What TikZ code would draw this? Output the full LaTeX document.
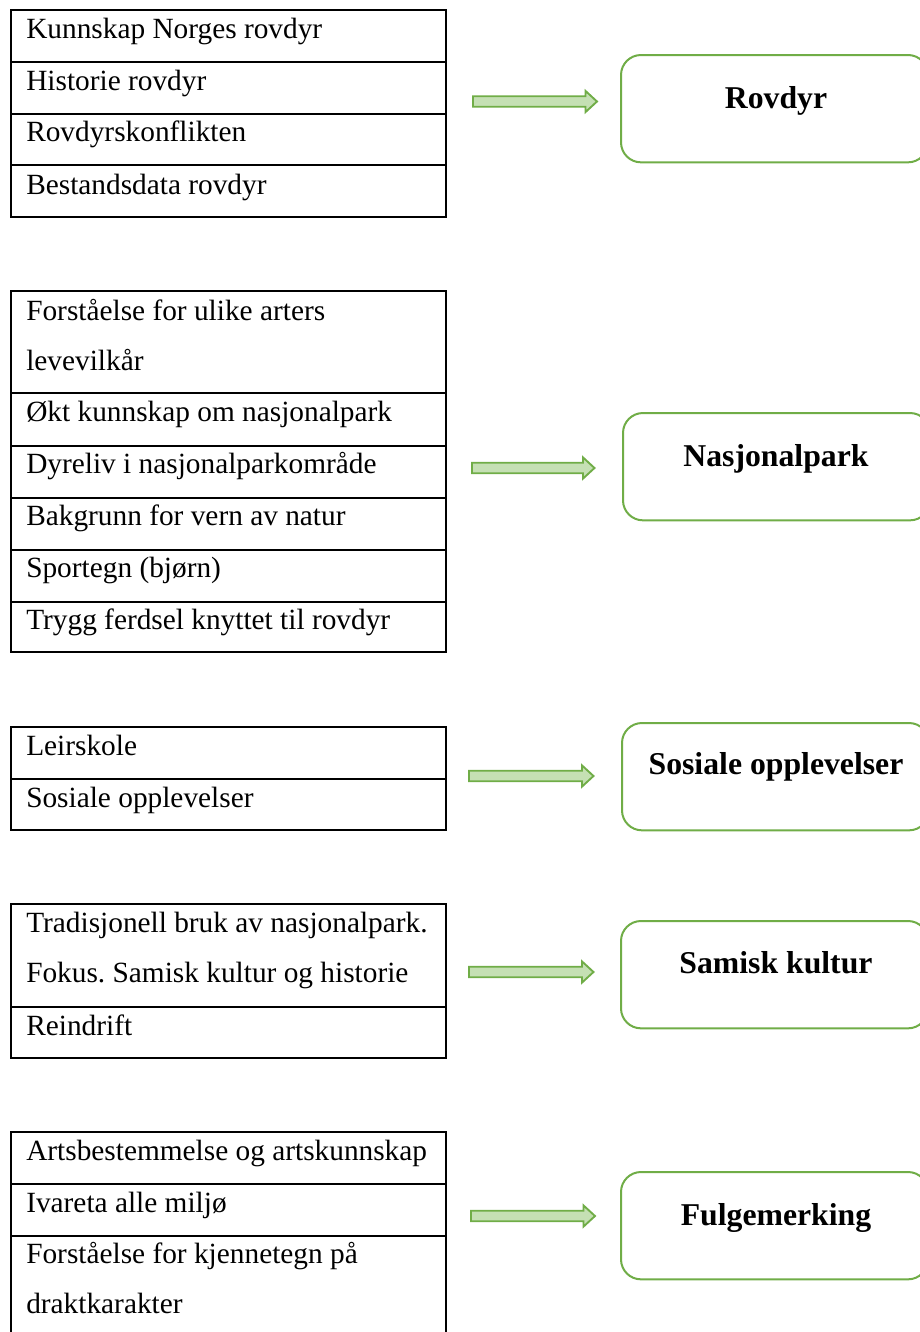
\documentclass[tikz,border=0pt]{standalone}
\usepackage{fontspec}
\setmainfont{Liberation Serif}
\usetikzlibrary{calc}
\definecolor{grn}{HTML}{70AD47}
\definecolor{lgrn}{HTML}{C5E0B4}
\frenchspacing
\newcommand\greenarrow[2]{%
  \draw[garrow] ($(#1)+(0,-5.2)$) -- ($(#2)+(-11.5,-5.2)$) -- ($(#2)+(-11.5,-10.6)$) -- (#2)
    -- ($(#2)+(-11.5,10.6)$) -- ($(#2)+(-11.5,5.2)$) -- ($(#1)+(0,5.2)$) -- cycle;}
\begin{document}
\begin{tikzpicture}[x=0.75pt,y=-0.75pt,
  tx/.style={anchor=base west, inner sep=0pt, font=\fontsize{22}{26}\selectfont},
  hd/.style={anchor=base, inner sep=0pt, font=\fontsize{23.8}{28}\selectfont\bfseries},
  tbl/.style={draw=black, line width=1.2pt},
  gbox/.style={draw=grn, line width=1.5pt, rounded corners=15pt, fill=white,
    minimum width=230.25pt, minimum height=80.5pt, anchor=north west, inner sep=0pt},
  garrow/.style={draw=grn, fill=lgrn, line width=1.4pt, line join=miter}]
\useasboundingbox (0,0) rectangle (920,1332);

% ---------- Table 1 ----------
\draw[tbl] (11,10) rectangle (446,217);
\foreach \yy in {62,114,165} \draw[tbl] (11,\yy) -- (446,\yy);
\node[tx] (r11) at (26,38.3) {Kunnskap Norges rovdyr};
\node[tx] (r12) at (26,90.5) {Historie rovdyr};
\node[tx] (r13) at (26,141.7) {Rovdyrskonflikten};
\node[tx] (r14) at (26,194) {Bestandsdata rovdyr};
\node[gbox] (b1) at (620,54) {};
\node[hd] (l1) at (776,108) {Rovdyr};
\coordinate (a1s) at (473,101.5);
\coordinate (a1e) at (597,101.5);
\greenarrow{a1s}{a1e}

% ---------- Table 2 ----------
\draw[tbl] (11,291) rectangle (446,652);
\foreach \yy in {393,446,498,550,602} \draw[tbl] (11,\yy) -- (446,\yy);
\node[tx] (r21) at (26,320) {Forståelse for ulike arters};
\node[tx] (r21b) at (26,370) {levevilkår};
\node[tx] (r22) at (26,421.7) {Økt kunnskap om nasjonalpark};
\node[tx] (r23) at (26,473) {Dyreliv i nasjonalparkområde};
\node[tx] (r24) at (26,525.7) {Bakgrunn for vern av natur};
\node[tx] (r25) at (26,577.7) {Sportegn (bjørn)};
\node[tx] (r26) at (26,629.3) {Trygg ferdsel knyttet til rovdyr};
\node[gbox] (b2) at (622,412) {};
\node[hd] (l2) at (776,466) {Nasjonalpark};
\coordinate (a2s) at (472,468);
\coordinate (a2e) at (594.5,468);
\greenarrow{a2s}{a2e}

% ---------- Table 3 ----------
\draw[tbl] (11,727) rectangle (446,830);
\draw[tbl] (11,779) -- (446,779);
\node[tx] (r31) at (26,755) {Leirskole};
\node[tx] (r32) at (26,807) {Sosiale opplevelser};
\node[gbox] (b3) at (621,722) {};
\node[hd] (l3) at (776,774) {Sosiale opplevelser};
\coordinate (a3s) at (469,776);
\coordinate (a3e) at (593.5,776);
\greenarrow{a3s}{a3e}

% ---------- Table 4 ----------
\draw[tbl] (11,904) rectangle (446,1058);
\draw[tbl] (11,1007) -- (446,1007);
\node[tx] (r41) at (26,932) {Tradisjonell bruk av nasjonalpark.};
\node[tx] (r41b) at (26,982) {Fokus. Samisk kultur og historie};
\node[tx] (r42) at (26,1035) {Reindrift};
\node[gbox] (b4) at (620,920) {};
\node[hd] (l4) at (776,973) {Samisk kultur};
\coordinate (a4s) at (469,972);
\coordinate (a4e) at (593.5,972);
\greenarrow{a4s}{a4e}

% ---------- Table 5 ----------
\draw[tbl] (11,1132) rectangle (446,1338);
\foreach \yy in {1184,1236} \draw[tbl] (11,\yy) -- (446,\yy);
\node[tx] (r51) at (26,1160) {Artsbestemmelse og artskunnskap};
\node[tx] (r52) at (26,1212.5) {Ivareta alle miljø};
\node[tx] (r53) at (26,1263) {Forståelse for kjennetegn på};
\node[tx] (r53b) at (26,1313) {draktkarakter};
\node[gbox] (b5) at (620,1171) {};
\node[hd] (l5) at (776,1225) {Fulgemerking};
\coordinate (a5s) at (471,1216);
\coordinate (a5e) at (595,1216);
\greenarrow{a5s}{a5e}
\end{tikzpicture}
\end{document}
